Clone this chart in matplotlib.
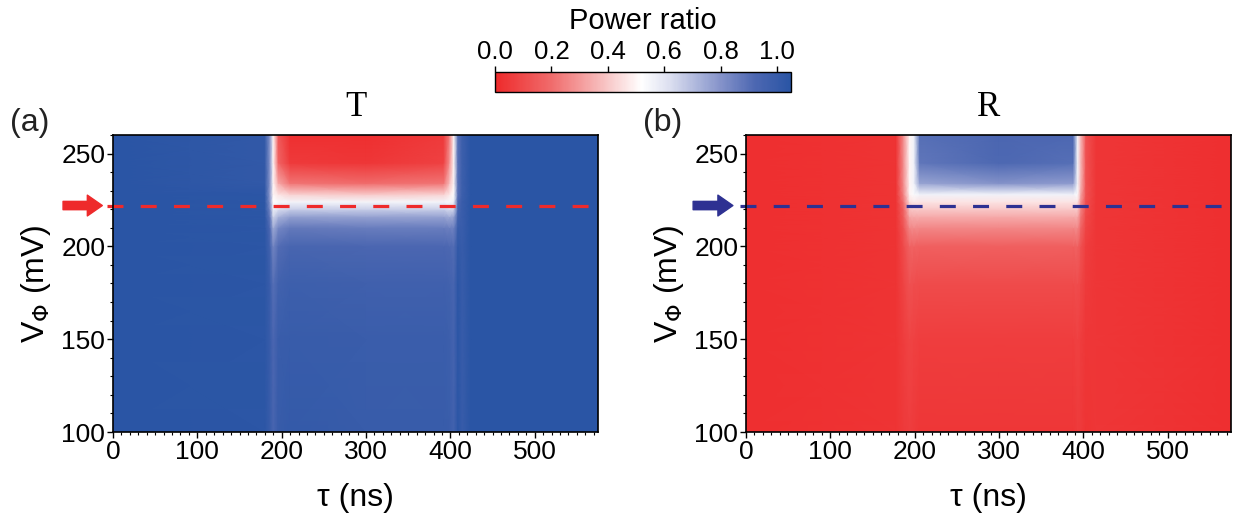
import matplotlib.pyplot as plt
import numpy as np
from matplotlib.colors import LinearSegmentedColormap
from matplotlib.ticker import MultipleLocator

plt.rcParams['font.family'] = ['Liberation Sans', 'DejaVu Sans']

# flux bias grid (mV), bottom to top
V_nodes = [100, 150, 180, 200, 210, 216, 220, 224, 228, 234, 245, 260]

# transmitted power ratio, one column per delay tau (ns)
T_tau = [0, 180, 186, 190, 196, 210, 300, 392, 399, 404, 409, 414, 424, 575]
T_columns = [
    [1.05, 1.05, 1.05, 1.05, 1.05, 1.05, 1.05, 1.05, 1.05, 1.05, 1.05, 1.05],
    [1.04, 1.04, 1.04, 1.04, 1.04, 1.04, 1.04, 1.04, 1.04, 1.02, 1.02, 1.02],
    [1.00, 1.00, 0.99, 0.96, 0.92, 0.88, 0.84, 0.80, 0.78, 0.80, 0.80, 0.80],
    [0.94, 0.93, 0.90, 0.84, 0.74, 0.64, 0.57, 0.52, 0.50, 0.50, 0.50, 0.50],
    [1.00, 0.99, 0.96, 0.91, 0.83, 0.72, 0.62, 0.54, 0.46, 0.33, 0.18, 0.14],
    [1.01, 1.00, 0.98, 0.94, 0.87, 0.77, 0.66, 0.55, 0.42, 0.22, 0.05, 0.02],
    [1.00, 0.99, 0.97, 0.93, 0.86, 0.76, 0.66, 0.55, 0.40, 0.20, 0.04, 0.02],
    [1.00, 0.99, 0.97, 0.93, 0.86, 0.76, 0.66, 0.55, 0.42, 0.22, 0.07, 0.05],
    [0.99, 0.98, 0.96, 0.92, 0.85, 0.74, 0.63, 0.54, 0.47, 0.38, 0.28, 0.24],
    [0.96, 0.95, 0.94, 0.91, 0.85, 0.76, 0.65, 0.57, 0.52, 0.50, 0.50, 0.50],
    [1.04, 1.04, 1.04, 1.02, 1.00, 0.97, 0.95, 0.93, 0.90, 0.90, 0.90, 0.90],
    [1.00, 1.00, 1.00, 1.00, 0.99, 0.99, 0.99, 0.99, 0.98, 0.98, 0.98, 0.98],
    [1.05, 1.05, 1.05, 1.05, 1.05, 1.05, 1.05, 1.05, 1.05, 1.05, 1.05, 1.05],
    [1.05, 1.05, 1.05, 1.05, 1.05, 1.05, 1.05, 1.05, 1.05, 1.05, 1.05, 1.05],
]

# reflected power ratio
R_tau = [0, 178, 187, 194, 199, 206, 300, 388, 393, 397, 403, 415, 575]
R_columns = [
    [0.02, 0.02, 0.02, 0.02, 0.02, 0.02, 0.02, 0.02, 0.02, 0.02, 0.02, 0.02],
    [0.03, 0.03, 0.03, 0.03, 0.03, 0.03, 0.03, 0.03, 0.03, 0.03, 0.03, 0.03],
    [0.05, 0.06, 0.08, 0.10, 0.13, 0.16, 0.18, 0.22, 0.26, 0.28, 0.28, 0.28],
    [0.06, 0.08, 0.12, 0.17, 0.26, 0.33, 0.39, 0.45, 0.50, 0.50, 0.50, 0.50],
    [0.05, 0.07, 0.11, 0.17, 0.27, 0.34, 0.40, 0.47, 0.53, 0.56, 0.56, 0.56],
    [0.04, 0.06, 0.10, 0.16, 0.26, 0.34, 0.40, 0.46, 0.56, 0.76, 0.88, 0.90],
    [0.04, 0.06, 0.10, 0.16, 0.26, 0.34, 0.40, 0.46, 0.56, 0.80, 0.92, 0.93],
    [0.04, 0.06, 0.10, 0.16, 0.26, 0.34, 0.40, 0.46, 0.56, 0.78, 0.90, 0.92],
    [0.05, 0.07, 0.11, 0.17, 0.27, 0.34, 0.40, 0.46, 0.53, 0.56, 0.56, 0.56],
    [0.05, 0.06, 0.09, 0.12, 0.18, 0.22, 0.25, 0.28, 0.32, 0.36, 0.36, 0.36],
    [0.03, 0.04, 0.05, 0.06, 0.08, 0.09, 0.10, 0.11, 0.12, 0.12, 0.12, 0.12],
    [0.04, 0.04, 0.04, 0.04, 0.04, 0.04, 0.04, 0.04, 0.04, 0.04, 0.04, 0.04],
    [0.02, 0.02, 0.02, 0.02, 0.02, 0.02, 0.02, 0.02, 0.02, 0.02, 0.02, 0.02],
]

V_cut = 222  # marked bias line
cbar_ticks = [0.0, 0.2, 0.4, 0.6, 0.8, 1.0]

# colour stops of the power-ratio scale (value, colour)
cmap_stops = [(0.0, '#EE2A2B'), (0.2, '#F06C6C'), (0.4, '#F8C8C8'),
              (0.52, '#FFFFFF'), (0.62, '#DCDFF0'), (0.8, '#8593CA'),
              (0.92, '#4E68B2'), (1.05, '#2A55A5')]

RED = '#EE2A2B'
NAVY = '#2E3192'
VMAX = 1.05
W, H = 1238, 527

cmap = LinearSegmentedColormap.from_list(
    'rwb', [(v / VMAX, c) for v, c in cmap_stops])

fig = plt.figure(figsize=(W / 100, H / 100), dpi=100)
ax_t = fig.add_axes([113 / W, 95 / H, 485 / W, 297 / H])
ax_r = fig.add_axes([746 / W, 95 / H, 485 / W, 297 / H])
cax = fig.add_axes([495 / W, 435 / H, 296 / W, 20 / H])


def draw_panel(ax, tau, cols, title, line_color, arrow_x):
    Z = np.array(cols).T
    m = ax.pcolormesh(tau, V_nodes, Z, shading='gouraud', cmap=cmap,
                      vmin=0, vmax=VMAX, rasterized=True)
    ax.set_xlim(0, 575)
    ax.set_ylim(100, 260)
    ax.plot([-7, 575], [V_cut, V_cut], color=line_color, lw=2.3,
            dashes=(5.0, 5.4), clip_on=False)
    ax.annotate('', xy=(arrow_x[1], V_cut), xytext=(arrow_x[0], V_cut),
                xycoords=ax.get_yaxis_transform(),
                textcoords=ax.get_yaxis_transform(),
                arrowprops=dict(arrowstyle='simple,head_length=0.9,head_width=1.25,tail_width=0.5',
                                color=line_color, mutation_scale=12,
                                shrinkA=0, shrinkB=0),
                annotation_clip=False)

    ax.xaxis.set_major_locator(MultipleLocator(100))
    ax.xaxis.set_minor_locator(MultipleLocator(10))
    ax.yaxis.set_major_locator(MultipleLocator(50))
    ax.yaxis.set_minor_locator(MultipleLocator(10))
    ax.tick_params(which='major', direction='out', length=4.5, width=1,
                   labelsize=19, pad=1)
    ax.tick_params(which='minor', direction='out', length=2.2, width=0.8)
    for s in ax.spines.values():
        s.set_linewidth(1.2)

    ax.set_xlabel('τ (ns)', fontsize=23, labelpad=14)
    ax.set_ylabel(r'V$_\Phi$ (mV)', fontsize=23, labelpad=6)
    ax.set_title(title, fontfamily=['Liberation Serif', 'DejaVu Serif'],
                 fontsize=25, pad=14)
    return m


mesh = draw_panel(ax_t, T_tau, T_columns, 'T', RED, (-0.103, -0.022))
draw_panel(ax_r, R_tau, R_columns, 'R', NAVY, (-0.109, -0.027))

fig.text(10 / W, 1 - 123 / H, '(a)', fontsize=23, color='#222222',
         ha='left', va='center')
fig.text(643 / W, 1 - 123 / H, '(b)', fontsize=23, color='#222222',
         ha='left', va='center')

cb = fig.colorbar(mesh, cax=cax, orientation='horizontal', ticks=cbar_ticks)
cb.outline.set_linewidth(1.0)
cax.xaxis.set_ticks_position('top')
cax.xaxis.set_label_position('top')
cax.set_xticklabels([f'{t:.1f}' for t in cbar_ticks])
cax.tick_params(direction='out', length=4, width=1, labelsize=18.5, pad=2)
cb.set_label('Power ratio', fontsize=21, labelpad=8)

fig.savefig('out.png', dpi=100)
